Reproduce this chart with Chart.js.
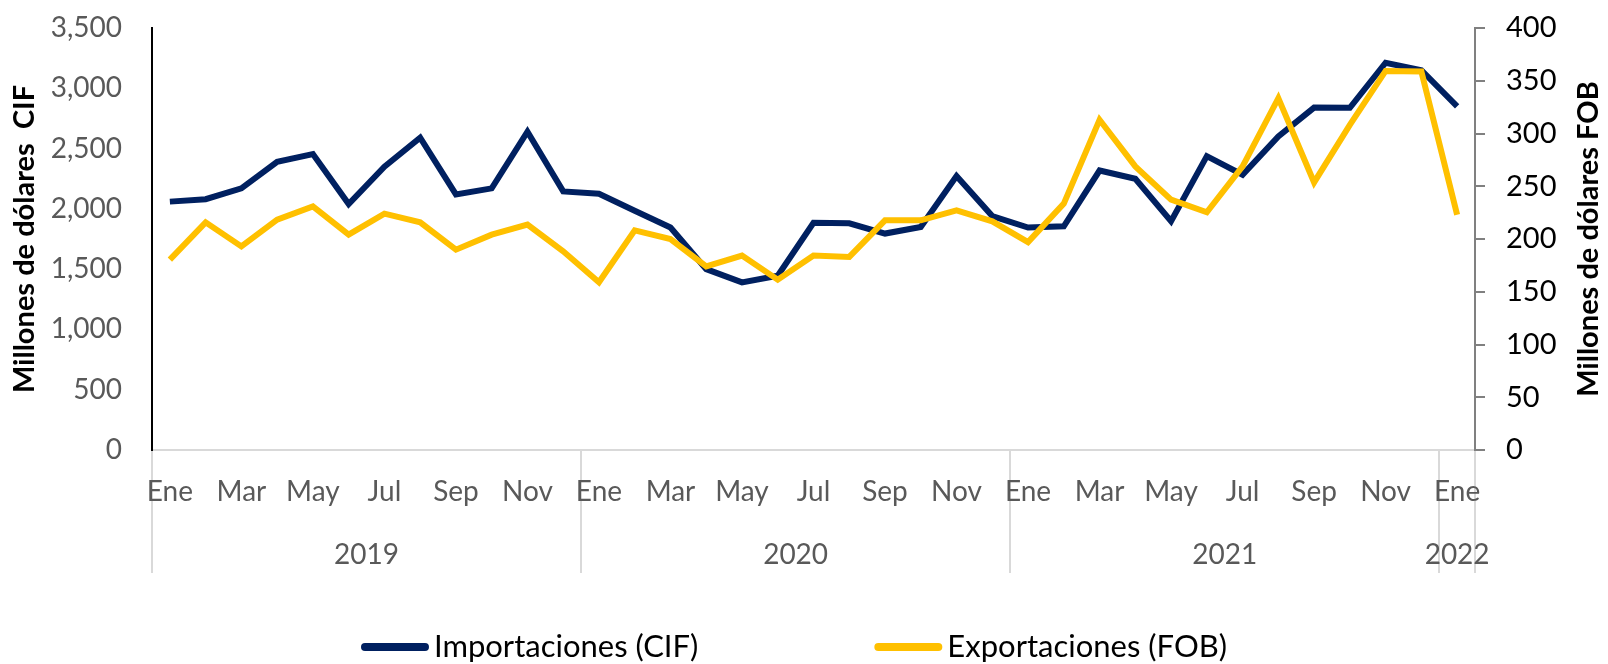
<!DOCTYPE html>
<html>
<head>
<meta charset="utf-8">
<script src="https://cdn.jsdelivr.net/npm/chart.js@4.4.0/dist/chart.umd.min.js"></script>
<style>
html, body { margin: 0; padding: 0; background: #fff; }
</style>
</head>
<body>
<canvas id="tradeChart" width="1608" height="664"></canvas>
<script>
// Data (monthly, Ene 2019 - Ene 2022)
var monthLabels = [
    'Ene', 'Feb', 'Mar', 'Abr', 'May', 'Jun', 'Jul', 'Ago', 'Sep', 'Oct', 'Nov', 'Dic',
    'Ene', 'Feb', 'Mar', 'Abr', 'May', 'Jun', 'Jul', 'Ago', 'Sep', 'Oct', 'Nov', 'Dic',
    'Ene', 'Feb', 'Mar', 'Abr', 'May', 'Jun', 'Jul', 'Ago', 'Sep', 'Oct', 'Nov', 'Dic',
    'Ene'
];
var yearLabels = ['2019', '2020', '2021', '2022'];
var yearCenters = [5.5, 17.5, 29.5, 36];

// Millones de dólares CIF (left axis)
var importaciones = [
    2060, 2080, 2170, 2390, 2455, 2040, 2350, 2590, 2120, 2170, 2640, 2145,
    2125, 1985, 1845, 1500, 1390, 1445, 1885, 1880, 1795, 1850, 2272, 1940,
    1845, 1855, 2318, 2250, 1898, 2437, 2283, 2600, 2840, 2838, 3212, 3150,
    2850
];
// Millones de dólares FOB (right axis)
var exportaciones = [
    180.5, 215.8, 193, 218.3, 230.9, 204.1, 224, 215.8, 189.9, 204.1, 213.6, 188.3,
    159, 208.2, 200, 174.1, 184.3, 161.5, 184.3, 183, 217.7, 217.7, 227.1, 216.7,
    197, 233.5, 313, 268.8, 237.3, 225.3, 268.8, 333.5, 253.6, 308.2, 359.3, 358.7,
    223
];

var FONT = 'Lato, "Liberation Sans", sans-serif';
var NAVY = '#002060';
var GOLD = '#FFC000';

// right axis title reads bottom-to-top like the left one
var rightTitle = {
    id: 'rightTitle',
    afterDraw: function(chart) {
        var area = chart.chartArea;
        var ctx = chart.ctx;
        ctx.save();
        ctx.translate(1589, (area.top + area.bottom) / 2);
        ctx.rotate(-Math.PI / 2);
        ctx.font = 'bold 29px ' + FONT;
        ctx.fillStyle = '#000';
        ctx.textAlign = 'center';
        ctx.textBaseline = 'middle';
        ctx.fillText('Millones de dólares FOB', 0, 0);
        ctx.restore();
    }
};

// legend with wide gap between the two items
var bottomLegend = {
    id: 'bottomLegend',
    afterDraw: function(chart) {
        var ctx = chart.ctx;
        var sets = chart.data.datasets;
        var lineLen = 68, gap = 5, between = 176, y = 647;
        ctx.save();
        ctx.font = '31px ' + FONT;
        var widths = sets.map(function(d) { return ctx.measureText(d.label).width; });
        var total = sets.length * (lineLen + gap) + widths[0] + widths[1] + between;
        var x = 794 - total / 2;
        sets.forEach(function(d, i) {
            ctx.strokeStyle = d.borderColor;
            ctx.lineWidth = 8;
            ctx.lineCap = 'round';
            ctx.beginPath();
            ctx.moveTo(x + 4, y);
            ctx.lineTo(x + lineLen - 4, y);
            ctx.stroke();
            x += lineLen + gap;
            ctx.fillStyle = '#000';
            ctx.textAlign = 'left';
            ctx.textBaseline = 'middle';
            ctx.fillText(d.label, x, y);
            x += widths[i] + between;
        });
        ctx.restore();
    }
};

// keep tick padding from pushing the plot area down
function noEdgePadding(s) {
    s.paddingTop = 0;
    s.paddingBottom = 0;
}

var ctx = document.getElementById('tradeChart').getContext('2d');
var tradeChart = new Chart(ctx, {
    type: 'line',
    data: {
        labels: monthLabels,
        datasets: [{
            label: 'Importaciones (CIF)',
            data: importaciones,
            borderColor: NAVY,
            borderWidth: 6,
            pointRadius: 0,
            tension: 0,
            fill: false,
            yAxisID: 'y',
            order: 1
        }, {
            label: 'Exportaciones (FOB)',
            data: exportaciones,
            borderColor: GOLD,
            borderWidth: 6,
            pointRadius: 0,
            tension: 0,
            fill: false,
            yAxisID: 'y2',
            order: 0
        }]
    },
    options: {
        responsive: false,
        animation: false,
        locale: 'en-US',
        layout: { padding: { top: 28, bottom: 84, left: 0, right: 0 } },
        plugins: {
            legend: { display: false },
            tooltip: { enabled: false }
        },
        scales: {
            x: {
                type: 'category',
                offset: true,
                grid: {
                    display: true,
                    drawOnChartArea: false,
                    offset: true,
                    tickLength: 123,
                    lineWidth: 2,
                    color: function(c) {
                        return (c.type !== 'tick' || c.index % 12 === 0) ? '#d9d9d9' : 'rgba(0,0,0,0)';
                    }
                },
                border: { display: true, color: '#d9d9d9', width: 2 },
                ticks: {
                    autoSkip: false,
                    maxRotation: 0,
                    padding: -98,
                    color: '#595959',
                    font: { family: FONT, size: 28 },
                    callback: function(v, i) { return i % 2 === 0 ? monthLabels[i] : ''; }
                },
                afterFit: function(s) { s.height = 70; }
            },
            yr: {
                type: 'linear',
                position: 'bottom',
                min: -0.5,
                max: 36.5,
                bounds: 'data',
                grid: { display: false },
                border: { display: false },
                afterBuildTicks: function(s) {
                    s.ticks = yearCenters.map(function(v) { return { value: v }; });
                },
                ticks: {
                    autoSkip: false,
                    maxRotation: 0,
                    padding: 10,
                    color: '#595959',
                    font: { family: FONT, size: 28 },
                    callback: function(v, i) { return yearLabels[i]; }
                },
                afterFit: function(s) { s.height = 60; }
            },
            y: {
                position: 'left',
                min: 0,
                max: 3500,
                ticks: {
                    stepSize: 500,
                    padding: 22,
                    color: '#595959',
                    font: { family: FONT, size: 28 }
                },
                grid: { display: false },
                border: { display: true, color: '#000', width: 2 },
                title: {
                    display: true,
                    text: 'Millones de dólares  CIF',
                    color: '#000',
                    font: { family: FONT, size: 29, weight: 'bold' },
                    padding: { top: 7, bottom: 0 }
                },
                afterFit: function(s) {
                    s.width = 152;
                    noEdgePadding(s);
                }
            },
            y2: {
                position: 'right',
                min: 0,
                max: 400,
                ticks: {
                    stepSize: 50,
                    padding: 21,
                    color: '#000',
                    font: { family: FONT, size: 29 }
                },
                grid: {
                    display: true,
                    drawOnChartArea: false,
                    tickLength: 10,
                    lineWidth: 2,
                    color: '#808080'
                },
                border: { display: true, color: '#808080', width: 2 },
                afterFit: function(s) {
                    s.width = 133;
                    noEdgePadding(s);
                }
            }
        }
    },
    plugins: [rightTitle, bottomLegend]
});
</script>
</body>
</html>
